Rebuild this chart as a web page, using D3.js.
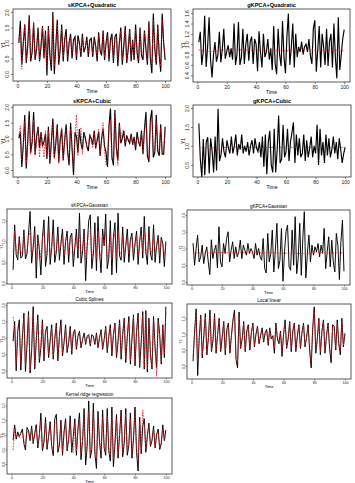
<!DOCTYPE html>
<html>
<head>
<meta charset="utf-8">
<script src="https://cdn.jsdelivr.net/npm/d3@7"></script>
<style>
body { margin: 0; background: #fff; }
svg { display: block; }
text { font-family: "Liberation Sans", Arial, sans-serif; fill: #000; }
</style>
</head>
<body>
<svg id="chart" width="355" height="483"></svg>
<script>
// time index and x tick labels
var time = d3.range(1, 101);
var xTicks = [0, 20, 40, 60, 80, 100];

// sKPCA+Quadratic
var sqActual = [1.00,1.72,0.30,1.00,1.60,0.35,0.90,1.90,0.40,0.70,
1.65,0.45,0.80,1.50,0.40,0.90,1.55,0.50,1.40,-0.05,
1.55,0.60,0.10,2.00,0.00,0.90,1.75,0.30,0.80,1.60,
0.40,1.10,1.45,0.40,1.00,1.30,0.50,1.10,1.20,0.45,
1.25,1.00,0.55,1.30,0.70,0.85,1.20,0.55,1.10,1.15,
0.55,1.20,0.90,0.40,1.35,0.75,0.60,1.40,0.45,1.00,
1.35,0.40,1.10,1.30,0.35,1.20,1.30,0.25,1.00,1.50,
0.30,0.90,1.55,0.35,0.80,1.45,0.40,1.10,0.45,1.60,
0.70,0.35,1.50,0.60,0.45,1.40,0.80,0.30,1.70,0.50,
0.02,1.95,0.80,0.30,1.60,0.60,0.07,1.95,1.00,0.45];
var sqPred = [1.10,1.45,0.15,0.95,1.60,0.45,0.85,1.75,0.50,0.80,
1.70,0.55,0.85,1.45,0.45,0.95,1.50,0.55,1.30,0.20,
1.40,0.70,0.30,1.80,0.25,0.95,1.60,0.45,0.85,1.50,
0.55,1.05,1.30,0.55,1.00,1.20,0.65,1.05,1.10,0.60,
1.15,0.95,0.65,1.20,0.75,0.90,1.10,0.70,1.05,1.05,
0.65,1.10,0.90,0.55,1.25,0.80,0.70,1.30,0.55,1.00,
1.25,0.55,1.05,1.20,0.50,1.15,1.20,0.45,1.00,1.40,
0.45,0.90,1.45,0.45,0.85,1.40,0.50,1.05,0.55,1.45,
0.75,0.45,1.40,0.65,0.55,1.35,0.85,0.40,1.55,0.60,
0.25,1.75,0.80,0.40,1.50,0.65,0.25,1.75,0.95,0.60];

// gKPCA+Quadratic
var gqActual = [1.04,1.24,0.60,0.85,1.55,0.56,0.95,1.52,0.70,0.36,
0.80,1.04,0.66,0.80,1.24,0.65,0.90,1.30,0.72,0.85,
0.98,0.75,0.92,0.70,1.40,0.60,0.80,1.43,0.60,0.75,
1.30,0.62,1.00,1.20,0.68,1.05,1.15,0.62,1.10,1.00,
0.48,1.25,0.85,0.55,1.20,0.75,0.85,1.10,0.70,0.92,
0.50,1.35,0.62,0.42,1.30,0.80,0.58,1.45,0.75,0.44,
1.15,1.59,0.60,0.95,1.40,0.55,1.20,0.75,0.95,0.85,
1.05,0.80,0.95,1.00,0.85,1.10,0.78,0.62,1.30,1.46,
0.47,0.90,1.35,0.55,1.20,0.95,0.60,1.30,0.58,1.05,
1.20,0.55,1.40,0.75,0.34,1.52,0.50,0.80,1.10,1.28];
var gqPred = [0.89,0.89,0.88,0.88,0.87,0.87,0.86,0.86,0.86,0.86,
0.86,0.87,0.87,0.87,0.88,0.88,0.89,0.89,0.90,0.90,
0.90,0.90,0.91,0.91,0.90,0.90,0.90,0.90,0.89,0.89,
0.89,0.89,0.89,0.88,0.88,0.88,0.88,0.89,0.89,0.89,
0.89,0.88,0.88,0.88,0.88,0.88,0.88,0.89,0.89,0.89,
0.89,0.89,0.88,0.88,0.88,0.88,0.88,0.87,0.87,0.87,
0.87,0.88,0.88,0.88,0.89,0.89,0.90,0.90,0.91,0.91,
0.92,0.92,0.91,0.91,0.90,0.90,0.89,0.89,0.88,0.88,
0.88,0.89,0.89,0.89,0.88,0.88,0.88,0.88,0.89,0.89,
0.89,0.88,0.88,0.88,0.88,0.88,0.87,0.87,0.87,0.87];

// sKPCA+Cubic
var scActual = [1.00,1.20,0.10,0.80,1.74,0.05,0.90,1.86,0.55,0.90,
1.84,0.50,1.05,1.37,0.70,1.20,0.75,0.90,1.15,0.35,
1.37,0.20,0.90,1.63,0.40,0.85,1.45,0.25,0.95,1.30,
0.30,0.95,1.45,0.60,0.15,1.50,0.70,-0.16,1.20,1.05,
0.55,1.30,0.85,0.65,1.20,1.00,0.75,0.60,1.10,1.00,
0.80,1.25,0.70,0.95,1.20,0.45,1.00,1.30,0.75,0.55,
0.10,1.40,1.95,0.40,0.15,1.90,0.70,0.30,1.50,0.85,
1.00,1.25,0.75,1.10,0.95,0.85,1.15,0.80,1.05,0.63,
1.20,0.90,0.75,1.25,0.50,1.30,1.84,0.45,0.25,1.60,
1.90,0.40,0.55,1.74,0.60,0.45,1.45,0.50,0.50,1.37];
var scPred = [1.10,1.40,0.30,0.75,1.55,0.20,0.85,1.60,0.50,0.85,
1.60,0.45,1.00,1.35,0.40,1.15,0.80,0.40,1.25,0.45,
1.25,0.30,0.85,1.45,0.35,0.90,1.35,0.20,1.00,1.35,
0.35,0.90,1.30,0.55,0.30,1.30,0.65,0.10,1.10,1.75,
0.45,1.25,1.35,0.50,1.10,1.10,0.70,0.75,1.15,0.90,
0.70,1.20,0.65,1.00,1.30,0.55,0.95,1.50,0.60,0.15,
0.30,1.35,1.60,0.30,0.25,1.70,0.65,0.15,1.40,0.90,
1.25,1.20,0.85,1.05,1.00,0.90,1.10,0.85,1.00,0.75,
1.10,0.95,0.80,1.15,0.60,1.20,1.60,0.55,0.35,1.45,
1.70,0.50,0.60,1.55,0.65,0.55,1.35,0.55,0.60,1.25];

// gKPCA+Cubic
var gcActual = [1.59,0.64,0.18,1.18,0.23,1.10,1.23,0.27,1.20,0.85,
0.30,1.25,0.35,1.98,0.60,0.77,1.20,0.85,0.70,1.15,
0.95,0.80,1.25,0.80,1.00,1.30,0.75,1.05,0.90,1.30,
0.80,1.00,0.85,1.10,0.75,1.00,1.15,0.80,1.20,0.95,
0.85,1.10,0.70,1.25,0.45,1.30,0.25,1.10,1.40,0.50,
0.30,1.45,0.30,0.90,1.80,0.55,0.65,1.55,0.70,0.85,
1.45,0.60,1.10,1.35,1.62,0.55,1.30,0.75,1.20,0.70,
0.80,1.30,0.60,1.15,0.70,0.95,1.25,0.70,1.00,0.80,
1.56,0.50,1.45,0.75,1.10,0.55,1.30,0.75,1.20,0.70,
0.90,1.25,0.80,1.10,0.65,1.20,0.90,0.55,0.80,0.96];
var gcPred = [0.95,0.95,0.95,0.95,0.95,0.95,0.95,0.95,0.95,0.95,
0.94,0.93,0.92,0.92,0.93,0.94,0.95,0.96,0.96,0.97,
0.97,0.97,0.97,0.97,0.97,0.97,0.97,0.96,0.96,0.96,
0.96,0.96,0.96,0.96,0.96,0.96,0.96,0.96,0.96,0.96,
0.96,0.96,0.96,0.96,0.96,0.96,0.96,0.96,0.96,0.96,
0.96,0.96,0.96,0.96,0.96,0.96,0.96,0.96,0.96,0.96,
0.96,0.96,0.96,0.96,0.96,0.96,0.96,0.96,0.96,0.96,
0.96,0.96,0.96,0.96,0.96,0.96,0.96,0.96,0.96,0.96,
0.96,0.96,0.96,0.96,0.96,0.96,0.96,0.96,0.96,0.96,
0.96,0.96,0.96,0.96,0.96,0.96,0.96,0.96,0.96,0.96];

// sKPCA+Gaussian
var sgActual = [0.32,1.40,0.68,0.56,1.12,0.60,0.65,1.28,0.58,0.70,
1.20,1.72,0.48,0.85,1.36,0.12,1.16,0.80,0.20,1.10,
1.52,0.40,0.70,1.60,0.45,0.85,1.52,0.50,0.75,1.35,
0.55,0.95,1.30,0.45,1.00,1.25,0.50,1.10,1.20,0.40,
0.85,1.30,0.60,1.68,0.48,0.75,1.30,0.06,0.90,1.50,
1.64,0.35,0.70,1.45,0.30,1.60,0.75,0.25,1.30,0.90,
1.66,0.35,0.60,1.50,0.20,1.10,1.45,0.25,1.68,0.65,
0.55,1.35,0.50,0.90,1.30,0.50,1.05,1.20,0.55,0.95,
1.25,0.45,1.00,1.35,0.60,1.60,0.75,0.45,1.36,0.70,
0.55,1.40,0.50,0.90,1.15,0.48,1.10,0.95,0.40,1.00];
var sgPred = [0.75,1.25,0.80,0.70,1.10,0.75,0.70,1.20,0.70,0.75,
1.10,1.25,0.65,0.90,1.20,0.55,1.10,0.85,0.60,1.05,
1.25,0.65,0.80,1.25,0.65,0.90,1.20,0.70,0.80,1.15,
0.70,0.95,1.15,0.65,1.00,1.10,0.70,1.05,1.10,0.65,
0.90,1.15,0.75,1.25,0.70,0.80,1.15,0.55,0.95,1.20,
1.25,0.60,0.80,1.20,0.60,1.25,0.80,0.60,1.15,0.90,
1.25,0.60,0.75,1.20,0.55,1.05,1.20,0.60,1.25,0.75,
0.70,1.15,0.70,0.90,1.15,0.70,1.00,1.10,0.70,0.95,
1.15,0.65,1.00,1.20,0.75,1.25,0.85,0.65,1.20,0.80,
0.70,1.20,0.70,0.90,1.10,0.65,1.05,0.95,0.65,0.95];

// gKPCA+Gaussian
var ggActual = [1.16,0.50,1.00,1.40,0.60,0.75,1.10,0.55,0.85,1.05,
0.60,0.22,1.26,0.70,0.95,1.10,0.42,1.65,0.60,0.45,
1.15,0.85,1.30,1.50,0.60,0.95,1.20,0.70,1.05,0.75,
0.90,1.25,0.70,1.10,0.95,0.80,1.15,0.85,1.00,0.90,
0.70,1.15,0.80,1.00,0.75,0.65,1.30,0.40,0.27,1.45,
0.60,0.85,1.55,0.30,0.95,1.75,0.40,0.65,1.60,0.02,
0.90,1.50,1.70,0.45,0.35,1.55,0.50,1.95,0.25,0.70,
1.75,0.20,1.30,2.10,0.12,0.85,1.40,0.60,1.10,0.80,
1.05,0.90,1.15,0.75,1.10,0.85,1.60,0.40,0.90,1.35,
0.45,1.25,0.60,0.30,1.45,1.10,0.07,1.20,1.85,0.32];
var ggPred = [0.87,0.87,0.87,0.86,0.86,0.86,0.86,0.86,0.86,0.86,
0.86,0.87,0.87,0.87,0.87,0.88,0.88,0.88,0.88,0.88,
0.88,0.88,0.88,0.87,0.87,0.87,0.87,0.87,0.87,0.87,
0.88,0.88,0.88,0.88,0.87,0.87,0.87,0.87,0.88,0.88,
0.88,0.88,0.87,0.87,0.87,0.87,0.87,0.87,0.87,0.87,
0.87,0.87,0.87,0.87,0.87,0.86,0.86,0.86,0.86,0.86,
0.86,0.86,0.86,0.86,0.86,0.86,0.86,0.86,0.86,0.85,
0.85,0.85,0.85,0.84,0.84,0.85,0.86,0.87,0.88,0.89,
0.89,0.89,0.88,0.88,0.88,0.88,0.88,0.87,0.87,0.87,
0.87,0.87,0.87,0.87,0.87,0.87,0.87,0.87,0.87,0.87];

// Cubic Splines
var csActual = [0.90,1.50,0.00,1.20,1.55,0.02,1.00,1.75,-0.02,0.80,
1.80,-0.07,0.60,1.95,0.05,0.90,1.70,0.25,0.70,1.55,
0.30,1.20,1.35,0.40,0.90,1.40,0.35,0.95,1.45,0.30,
1.05,1.55,0.45,0.85,1.40,0.55,0.85,1.35,0.50,1.15,
1.25,0.65,1.05,1.20,0.70,0.95,1.15,0.80,1.05,1.10,
0.75,1.10,1.05,0.80,1.15,0.70,1.00,1.25,0.65,0.95,
1.35,0.55,1.05,1.40,0.45,1.10,1.45,0.40,0.90,1.55,
0.35,1.10,1.60,0.25,1.05,1.65,0.20,0.95,1.70,0.15,
1.20,1.75,0.10,0.85,1.80,0.05,1.83,-0.04,1.60,0.50,
0.05,1.65,0.70,0.10,1.60,1.10,0.20,1.40,0.40,1.95];
var csPred = [1.64,1.30,0.20,1.30,1.40,0.20,1.10,1.60,0.15,0.90,
1.70,0.05,0.75,1.75,0.15,1.00,1.55,0.35,0.80,1.45,
0.40,1.15,1.25,0.50,0.95,1.30,0.45,1.00,1.35,0.40,
1.00,1.40,0.55,0.90,1.30,0.60,0.90,1.25,0.60,1.10,
1.20,0.70,1.05,1.15,0.75,0.95,1.10,0.85,1.00,1.05,
0.80,1.05,1.00,0.85,1.10,0.75,1.00,1.20,0.70,0.95,
1.30,0.60,1.05,1.30,0.55,1.10,1.40,0.50,0.95,1.45,
0.45,1.10,1.55,0.35,1.05,1.50,0.30,1.00,1.65,0.25,
1.15,1.65,0.15,0.90,1.70,0.10,1.75,0.05,1.50,0.45,
0.10,1.55,0.65,-0.17,1.50,1.00,0.25,1.35,0.50,1.80];

// Local linear
var llActual = [0.15,1.10,1.80,-0.30,0.90,1.60,0.25,0.95,1.65,0.35,
0.90,1.76,0.45,0.80,1.65,0.40,1.00,1.50,0.45,0.90,
1.40,0.35,1.15,1.35,0.40,0.95,1.45,1.76,0.20,-0.06,
1.70,0.55,0.85,1.40,0.45,1.10,1.30,0.50,1.05,1.35,
0.60,1.00,1.25,0.70,0.95,1.20,0.75,1.05,1.15,0.65,
1.20,0.85,0.95,0.40,1.35,0.85,0.70,1.10,0.30,1.00,
1.45,0.55,0.85,1.40,0.45,1.10,1.35,0.45,0.95,1.30,
0.55,1.05,1.35,0.60,0.90,1.30,0.50,-0.06,1.20,1.86,
0.40,0.85,1.50,0.35,1.10,1.45,0.40,0.95,1.35,0.55,
0.10,1.30,1.25,0.50,1.45,0.70,0.35,1.50,0.60,1.03];
var llPred = [0.30,1.00,1.60,0.10,0.85,1.55,0.35,0.90,1.55,0.40,
0.85,1.60,0.50,0.85,1.55,0.45,1.00,1.45,0.50,0.90,
1.35,0.45,1.10,1.30,0.45,0.95,1.40,1.60,0.30,0.15,
1.55,0.60,0.85,1.35,0.50,1.05,1.25,0.55,1.05,1.30,
0.65,1.00,1.20,0.75,0.95,1.15,0.80,1.00,1.10,0.70,
1.15,0.90,0.95,0.55,1.25,0.90,0.75,1.05,0.45,1.00,
1.35,0.60,0.90,1.35,0.50,1.05,1.30,0.50,0.95,1.25,
0.60,1.05,1.30,0.65,0.90,1.25,0.55,0.15,1.15,1.70,
0.50,0.85,1.45,0.45,1.05,1.40,0.45,0.95,1.30,0.60,
0.30,1.25,1.20,0.55,1.35,0.75,0.45,1.40,0.65,1.00];

// Kernel ridge regression
var krActual = [0.82,1.34,0.85,1.10,0.95,1.05,1.20,0.70,0.48,1.25,
1.15,0.80,1.30,0.70,1.05,1.35,0.55,1.00,1.74,0.45,
0.75,1.60,0.50,0.95,1.45,0.60,0.29,1.55,1.70,0.40,
0.65,1.50,0.30,1.10,1.55,0.45,0.85,1.65,0.40,0.95,
1.55,0.30,1.20,1.75,0.15,0.80,1.90,-0.03,0.60,2.16,
0.20,0.50,2.08,0.35,-0.15,1.80,0.75,0.20,1.85,0.55,
0.30,1.90,0.45,0.10,1.95,-0.09,0.70,1.70,0.20,1.00,
1.85,0.25,0.70,1.90,0.30,0.65,1.75,0.20,0.85,1.95,
0.40,-0.24,1.60,0.35,1.30,1.55,0.40,0.95,1.40,0.60,
0.80,1.30,0.55,1.00,1.20,0.50,0.70,1.34,0.80,1.17];
var krPred = [0.48,1.20,0.90,1.00,0.90,1.10,1.05,0.80,0.70,1.15,
1.05,0.85,1.20,0.75,1.00,1.25,0.65,1.00,1.50,0.55,
0.80,1.45,0.60,0.95,1.35,0.65,0.45,1.40,1.45,0.50,
0.75,1.35,0.45,1.05,1.40,0.50,0.90,1.50,0.45,0.40,
1.40,0.45,1.15,1.55,0.35,0.85,1.60,0.25,0.75,1.80,
0.40,0.65,1.75,0.50,0.20,1.55,0.85,0.40,1.60,0.65,
0.45,1.65,0.55,0.30,1.70,0.15,0.80,1.55,0.35,1.05,
1.65,0.40,0.80,1.70,0.45,0.75,1.55,0.35,0.95,1.70,
0.55,0.10,1.45,0.50,1.85,1.35,0.50,1.00,1.30,0.65,
0.85,1.20,0.60,1.05,1.10,0.55,0.75,1.20,0.85,0.90];

var t1 = [0, 0.5, 1, 1.5, 2];
var panels = [
    { title: "sKPCA+Quadratic", a: sqActual, p: sqPred, box: [13, 9, 171, 81], yDom: [-0.23, 2.1], yTicks: t1, big: true },
    { title: "gKPCA+Quadratic", a: gqActual, p: gqPred, box: [193, 9, 350, 82], yDom: [0.27, 1.68], yTicks: [0.4, 0.6, 0.8, 1.0, 1.2, 1.4, 1.6], big: true },
    { title: "sKPCA+Cubic", a: scActual, p: scPred, box: [13, 105, 171, 177], yDom: [-0.22, 2.06], yTicks: t1, big: true },
    { title: "gKPCA+Cubic", a: gcActual, p: gcPred, box: [193, 105, 351, 177], yDom: [0.18, 2.08], yTicks: [0.5, 1, 1.5, 2], big: true },
    { title: "sKPCA+Gaussian", a: sgActual, p: sgPred, box: [7, 209, 172, 284], yDom: [-0.02, 1.78], yTicks: [0, 0.5, 1, 1.5], big: false },
    { title: "gKPCA+Gaussian", a: ggActual, p: ggPred, box: [187, 210, 350, 285], yDom: [-0.09, 2.15], yTicks: t1, big: false },
    { title: "Cubic Splines", a: csActual, p: csPred, box: [7, 303, 172, 378], yDom: [-0.22, 2.06], yTicks: t1, big: false },
    { title: "Local linear", a: llActual, p: llPred, box: [187, 304, 351, 379], yDom: [-0.41, 1.95], yTicks: [0, 0.5, 1, 1.5], big: false },
    { title: "Kernel ridge regression", a: krActual, p: krPred, box: [7, 398, 172, 474], yDom: [-0.34, 2.26], yTicks: t1, big: false }
];

var svg = d3.select("#chart");

panels.forEach(function (pn) {
    var x0 = pn.box[0], y0 = pn.box[1], x1 = pn.box[2], y1 = pn.box[3];
    var fsTitle = pn.big ? 5.6 : 4.6;
    var fsTick = pn.big ? 5 : 3.6;
    var tick = pn.big ? 2 : 1.5;

    var x = d3.scaleLinear().domain([1 - 3.96, 100 + 3.96]).range([x0, x1]);
    var y = d3.scaleLinear().domain(pn.yDom).range([y1, y0]);

    var g = svg.append("g");

    // lines first, then the box on top
    var line = d3.line()
        .x(function (d, i) { return x(time[i]); })
        .y(function (d) { return y(d); });

    g.append("path")
        .attr("d", line(pn.a))
        .style("fill", "none")
        .style("stroke", "#000")
        .style("stroke-width", pn.big ? 1.15 : 0.95);
    g.append("path")
        .attr("d", line(pn.p))
        .style("fill", "none")
        .style("stroke", "#e8141c")
        .style("stroke-width", 0.8)
        .style("stroke-dasharray", "1.6,1.2");

    g.append("rect")
        .attr("x", x0).attr("y", y0)
        .attr("width", x1 - x0).attr("height", y1 - y0)
        .style("fill", "none")
        .style("stroke", "#333")
        .style("stroke-width", 0.8);

    // x axis
    var gx = g.append("g")
        .attr("transform", "translate(0," + y1 + ")")
        .call(d3.axisBottom(x).tickValues(xTicks).tickSize(tick).tickPadding(1));
    gx.select(".domain").remove();
    gx.selectAll("line").style("stroke", "#333").style("stroke-width", 0.6);
    gx.selectAll("text").style("font-size", fsTick + "px").style("fill", "#222");

    // y axis, labels turned like R's default
    var gy = g.append("g")
        .attr("transform", "translate(" + x0 + ",0)")
        .call(d3.axisLeft(y).tickValues(pn.yTicks).tickSize(tick).tickFormat(d3.format(".1f")));
    gy.select(".domain").remove();
    gy.selectAll("line").style("stroke", "#333").style("stroke-width", 0.6);
    gy.selectAll("text")
        .attr("transform", "rotate(-90)")
        .attr("x", 0).attr("y", pn.big ? -4.3 : -2.1).attr("dy", 0)
        .style("text-anchor", "middle")
        .style("font-size", fsTick + "px")
        .style("fill", "#222");

    // titles
    g.append("text")
        .attr("x", (x0 + x1) / 2).attr("y", y0 - 2.5)
        .style("text-anchor", "middle")
        .style("font-size", fsTitle + "px")
        .style("font-weight", pn.big ? "bold" : "normal")
        .text(pn.title);
    g.append("text")
        .attr("x", (x0 + x1) / 2).attr("y", y1 + (pn.big ? 12 : 9.3))
        .style("text-anchor", "middle")
        .style("font-size", (pn.big ? 5 : 4) + "px")
        .text("Time");
    // Y1 label, kept inside the page on the left column
    var yLabX = pn.big ? x0 - 8.5 : Math.max(x0 - 5, 2.6);
    g.append("text")
        .attr("transform", "translate(" + yLabX + "," + ((y0 + y1) / 2) + ") rotate(-90)")
        .style("text-anchor", "middle")
        .style("font-size", (pn.big ? 5 : 3.3) + "px")
        .text("Y1");
});
</script>
</body>
</html>
